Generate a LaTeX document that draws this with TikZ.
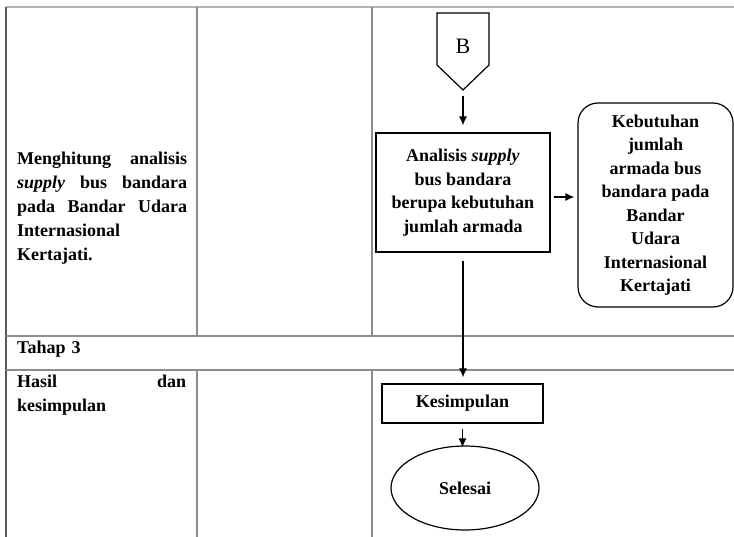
\documentclass[tikz,border=0pt]{standalone}
\usepackage{fontspec}
\setmainfont{Liberation Serif}
\usetikzlibrary{arrows.meta,shapes.geometric}
\begin{document}
\begin{tikzpicture}[x=1pt,y=-1pt,
  grid/.style={draw=black!45,line width=1.2pt},
  box/.style={draw,line width=1.2pt,align=center,font=\bfseries\fontsize{18}{23.5}\selectfont,inner sep=0pt},
  arr/.style={-{Latex[length=9pt,width=8pt]},line width=1.2pt},
  celltext/.style={font=\bfseries\fontsize{18}{24}\selectfont,inner sep=0pt,anchor=base west,text width=170pt,align=left}]
\useasboundingbox (0,0) rectangle (734,537);
% table
\draw[grid,draw=black!30] (6,7) -- (734,7);
\draw[grid,draw=black!65] (6,7) -- (6,537);
\draw[grid] (197,7) -- (197,336);
\draw[grid] (372,7) -- (372,336);
\draw[grid] (6,336) -- (734,336);
\draw[grid] (6,370) -- (734,370);
\draw[grid] (197,370) -- (197,537);
\draw[grid] (372,370) -- (372,537);
% cell texts
\node[celltext] (t1) at (17,165) {\makebox[170pt]{Menghitung\hfill analisis}\\
\makebox[170pt]{\textit{supply}\hfill bus\hfill bandara}\\
\makebox[170pt]{pada\hfill Bandar\hfill Udara}\\
Internasional\\
Kertajati.};
\node[celltext] (tahap) at (17,354) {Tahap 3};
\node[celltext] (hasil) at (17,388) {\makebox[169pt]{Hasil\hfill dan}\\kesimpulan};
% off-page connector B
\draw[line width=1.2pt] (437,13) -- (489,13) -- (489,65) -- (463,90) -- (437,65) -- cycle;
\node[font=\fontsize{22}{24}\selectfont] (B) at (463,46) {B};
\coordinate (Btip) at (463,96);
% boxes
\node[box,minimum width=174pt,minimum height=119pt] (ana) at (463,192.5)
  {Analisis \textit{supply}\\bus bandara\\berupa kebutuhan\\jumlah armada};
\node[box,rounded corners=20pt,minimum width=155pt,minimum height=204pt] (keb) at (655.5,205)
  {Kebutuhan\\jumlah\\armada bus\\bandara pada\\Bandar\\Udara\\Internasional\\Kertajati};
\node[box,minimum width=161pt,minimum height=39pt] (kes) at (462.5,403.5) {Kesimpulan};
\node[box,ellipse,minimum width=148pt,minimum height=84pt] (sel) at (465,488) {Selesai};
% connectors
\coordinate (ay) at (0,197);
\draw[arr] (Btip) -- ([yshift=7pt]ana.north);
\draw[arr,shorten <=3pt,shorten >=3pt] (ana.east |- ay) -- (keb.west |- ay);
\draw[arr,shorten <=8pt,shorten >=6pt] (ana.south) -- (ana.south |- kes.north);
\draw[arr,shorten <=5pt,shorten >=-2pt] (kes.south) -- (kes.south |- sel.north);
\end{tikzpicture}
\end{document}
